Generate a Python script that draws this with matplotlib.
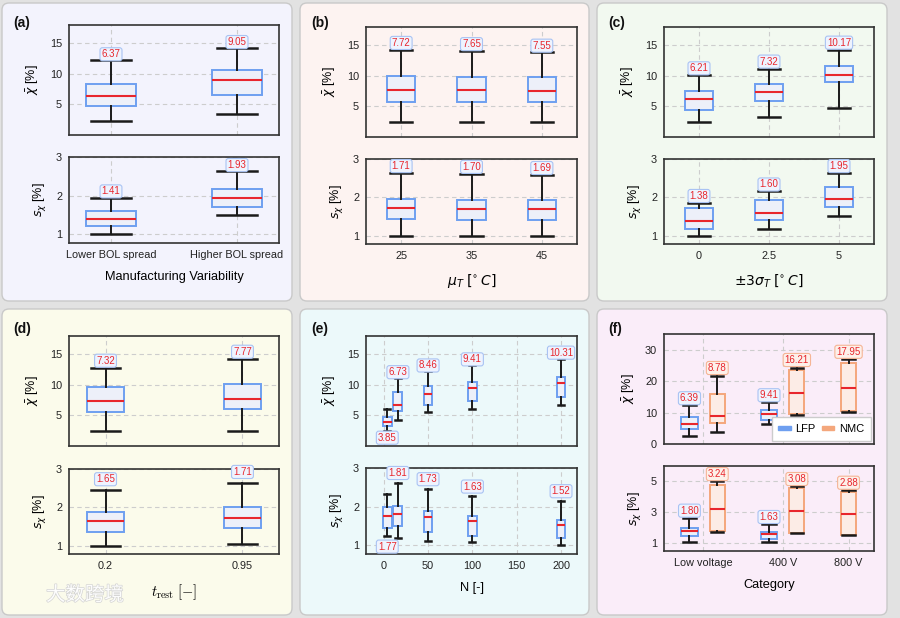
import matplotlib
matplotlib.use('Agg')
import matplotlib.pyplot as plt
from matplotlib.patches import FancyBboxPatch, Patch
import matplotlib.patheffects as pe
import numpy as np

plt.rcParams['font.family'] = ['Liberation Sans', 'DejaVu Sans']
plt.rcParams['mathtext.fontset'] = 'dejavusans'

# ---------------- data ----------------
# (a) Manufacturing variability
a_cats = ["Lower BOL spread", "Higher BOL spread"]
a_mean_lo = [2.36, 3.46]; a_mean_q1 = [4.78, 6.60]; a_mean_med = [6.37, 9.05]
a_mean_q3 = [8.40, 10.60]; a_mean_hi = [12.30, 14.30]
a_std_lo = [1.00, 1.50]; a_std_q1 = [1.21, 1.72]; a_std_med = [1.41, 1.93]
a_std_q3 = [1.61, 2.17]; a_std_hi = [1.95, 2.63]

# (b) mean temperature
b_cats = ["25", "35", "45"]
b_mean_lo = [2.49, 2.49, 2.49]; b_mean_q1 = [5.70, 5.70, 5.70]; b_mean_med = [7.72, 7.65, 7.55]
b_mean_q3 = [9.97, 9.90, 9.80]; b_mean_hi = [14.30, 14.10, 13.85]
b_std_lo = [1.00, 1.00, 1.00]; b_std_q1 = [1.42, 1.41, 1.40]; b_std_med = [1.71, 1.70, 1.69]
b_std_q3 = [1.96, 1.94, 1.93]; b_std_hi = [2.64, 2.62, 2.59]

# (c) temperature spread
c_cats = ["0", "2.5", "5"]
c_mean_lo = [2.49, 3.20, 4.73]; c_mean_q1 = [4.45, 5.87, 9.00]; c_mean_med = [6.21, 7.32, 10.17]
c_mean_q3 = [7.50, 8.60, 11.70]; c_mean_hi = [10.10, 11.20, 14.30]
c_std_lo = [1.00, 1.17, 1.51]; c_std_q1 = [1.17, 1.41, 1.75]; c_std_med = [1.38, 1.60, 1.95]
c_std_q3 = [1.73, 1.93, 2.27]; c_std_hi = [1.86, 2.16, 2.64]

# (d) rest time
d_vals = [0.2, 0.95]
d_cats = ["0.2", "0.95"]
d_mean_lo = [2.45, 2.50]; d_mean_q1 = [5.49, 6.03]; d_mean_med = [7.32, 7.77]
d_mean_q3 = [9.62, 10.20]; d_mean_hi = [12.77, 14.24]
d_std_lo = [1.00, 1.03]; d_std_q1 = [1.36, 1.45]; d_std_med = [1.65, 1.71]
d_std_q3 = [1.88, 2.00]; d_std_hi = [2.45, 2.64]

# (e) number of cells
e_N = [4, 16, 50, 100, 200]
e_mean_lo = [2.45, 4.24, 5.49, 6.09, 6.74]; e_mean_q1 = [3.20, 5.76, 6.68, 7.34, 8.00]
e_mean_med = [3.85, 6.73, 8.46, 9.41, 10.31]
e_mean_q3 = [4.73, 8.90, 9.84, 10.54, 11.36]; e_mean_hi = [6.03, 11.10, 12.20, 13.20, 14.30]
e_std_lo = [1.24, 1.20, 1.11, 1.08, 1.00]; e_std_q1 = [1.44, 1.51, 1.36, 1.25, 1.19]
e_std_med = [1.77, 1.81, 1.73, 1.63, 1.52]
e_std_q3 = [2.00, 2.02, 1.89, 1.77, 1.67]; e_std_hi = [2.32, 2.62, 2.46, 2.27, 2.15]
e_label_below = [True, False, False, False, False]

# (f) category: LFP (Low voltage, 400 V), NMC (Low voltage, 400 V, 800 V)
f_cats = ["Low voltage", "400 V", "800 V"]
f_lfp_mean_lo = [2.64, 6.34]; f_lfp_mean_q1 = [4.65, 7.60]; f_lfp_mean_med = [6.39, 9.41]
f_lfp_mean_q3 = [8.66, 10.77]; f_lfp_mean_hi = [12.35, 13.30]
f_nmc_mean_lo = [3.80, 9.30, 10.24]; f_nmc_mean_q1 = [6.76, 9.50, 10.45]; f_nmc_mean_med = [8.78, 16.21, 17.95]
f_nmc_mean_q3 = [15.90, 23.44, 25.90]; f_nmc_mean_hi = [21.75, 24.30, 26.90]
f_lfp_std_lo = [1.11, 1.06]; f_lfp_std_q1 = [1.48, 1.26]; f_lfp_std_med = [1.80, 1.63]
f_lfp_std_q3 = [2.02, 1.74]; f_lfp_std_hi = [2.66, 2.25]
f_nmc_std_lo = [1.74, 1.65, 1.54]; f_nmc_std_q1 = [1.82, 1.67, 1.56]; f_nmc_std_med = [3.24, 3.08, 2.88]
f_nmc_std_q3 = [4.76, 4.55, 4.29]; f_nmc_std_hi = [5.00, 4.68, 4.44]

# ---------------- style ----------------
W, H = 900, 618
RED = '#e8262d'
BLUE = '#6e9ff0'; BLUE_FACE = '#edf0f9'; BLUE_LBL_E = '#a9c3f3'; BLUE_LBL_F = '#eef3fe'
ORNG = '#f4a77c'; ORNG_FACE = '#fcece6'; ORNG_LBL_E = '#f5b596'; ORNG_LBL_F = '#fdf0ea'
PANEL_COLORS = ['#f3f3fd', '#fdf3f1', '#f2f9f0', '#fbfbeb', '#ecf9fa', '#faedf9']

fig = plt.figure(figsize=(9, 6.18), dpi=100, facecolor='#e2e2e2')

panels = [(2, 3, 292, 301), (300, 3, 589, 301), (597, 3, 887, 301),
          (2, 309, 292, 615), (300, 309, 589, 615), (597, 309, 887, 615)]
letters = ['(a)', '(b)', '(c)', '(d)', '(e)', '(f)']
for (x0, y0, x1, y1), col, let in zip(panels, PANEL_COLORS, letters):
    p = FancyBboxPatch((x0 / 100, (H - y1) / 100), (x1 - x0) / 100, (y1 - y0) / 100,
                       boxstyle='round,pad=0,rounding_size=0.07',
                       transform=fig.dpi_scale_trans, facecolor=col,
                       edgecolor='#c9c9c9', linewidth=1.0, zorder=0)
    fig.add_artist(p)
    fig.text((x0 + 11) / W, 1 - (y0 + 20) / H, let, fontsize=10, fontweight='bold',
             ha='left', va='center', color='#111111')


def rect(x0, y0, x1, y1):
    return [x0 / W, 1 - y1 / H, (x1 - x0) / W, (y1 - y0) / H]


def style(ax, ylim, yticks):
    ax.set_facecolor('none')
    ax.set_ylim(ylim)
    ax.set_yticks(yticks)
    ax.grid(True, ls=(0, (4, 3)), color='#cdcdcd', lw=0.8)
    ax.set_axisbelow(True)
    for s in ax.spines.values():
        s.set_color('#333333')
        s.set_linewidth(1.2)
    ax.tick_params(length=0, labelsize=7.8, pad=5, colors='#222222')


def draw_boxes(ax, pos, lo, q1, med, q3, hi, width, edge, face, le, lf,
               off=4.5, below=None, capfrac=0.8):
    stats = [dict(whislo=a, q1=b, med=c, q3=d, whishi=e, fliers=[])
             for a, b, c, d, e in zip(lo, q1, med, q3, hi)]
    ax.bxp(stats, positions=pos, widths=width, capwidths=width * capfrac,
           patch_artist=True, showfliers=False, manage_ticks=False,
           boxprops=dict(facecolor=face, edgecolor=edge, linewidth=1.4),
           medianprops=dict(color=RED, linewidth=1.5),
           whiskerprops=dict(color='#1a1a1a', linewidth=1.4),
           capprops=dict(color='#1a1a1a', linewidth=1.8))
    for i, (p, m) in enumerate(zip(pos, med)):
        b = below[i] if below else False
        y = lo[i] if b else hi[i]
        ax.annotate(f'{m:.2f}', (p, y), xytext=(0, -(off + 0.5) if b else off),
                    textcoords='offset points', ha='center', va='center',
                    fontsize=7, color=RED, zorder=6, annotation_clip=False,
                    bbox=dict(boxstyle='round,pad=0.16,rounding_size=0.25',
                              fc=lf, ec=le, lw=0.8))


def panel(top_rect, bot_rect, pos, xlim, xticks, xticklabels, xlabel, width,
          top, bot, top_ylim=(0, 18), top_yt=(5, 10, 15), bot_ylim=(0.78, 3),
          bot_yt=(1, 2, 3), off_top=4.5, off_bot=4.5, below=None, capfrac=0.8,
          xlabel_kw=None):
    axt = fig.add_axes(rect(*top_rect))
    axb = fig.add_axes(rect(*bot_rect))
    for ax in (axt, axb):
        ax.set_xlim(xlim)
        ax.set_xticks(xticks)
    style(axt, top_ylim, top_yt)
    style(axb, bot_ylim, bot_yt)
    axt.tick_params(labelbottom=False)
    axb.set_xticklabels(xticklabels)
    if top is not None:
        draw_boxes(axt, pos, *top, width, BLUE, BLUE_FACE, BLUE_LBL_E, BLUE_LBL_F,
                   off=off_top, below=below, capfrac=capfrac)
        draw_boxes(axb, pos, *bot, width, BLUE, BLUE_FACE, BLUE_LBL_E, BLUE_LBL_F,
                   off=off_bot, below=below, capfrac=capfrac)
    axt.set_ylabel(r'$\bar{\chi}$ [%]', fontsize=9, labelpad=6)
    axb.set_ylabel(r'$s_{\chi}$ [%]', fontsize=9, labelpad=6)
    kw = dict(fontsize=9.2, labelpad=8)
    kw.update(xlabel_kw or {})
    axb.set_xlabel(xlabel, **kw)
    return axt, axb


# (a)
panel((69, 25, 279, 135), (69, 157, 279, 243), [0, 1], (-1 / 3, 4 / 3), [0, 1], a_cats,
      'Manufacturing Variability', 0.4,
      (a_mean_lo, a_mean_q1, a_mean_med, a_mean_q3, a_mean_hi),
      (a_std_lo, a_std_q1, a_std_med, a_std_q3, a_std_hi), off_top=4, off_bot=4.5)
# (b)
panel((366, 27, 577, 137), (366, 159, 577, 244), [0, 1, 2], (-0.5, 2.5), [0, 1, 2], b_cats,
      r'$\mu_T\;[^{\circ}\,C]$', 0.4,
      (b_mean_lo, b_mean_q1, b_mean_med, b_mean_q3, b_mean_hi),
      (b_std_lo, b_std_q1, b_std_med, b_std_q3, b_std_hi), off_top=4.8, off_bot=4.8,
      xlabel_kw=dict(fontsize=10))
# (c)
panel((664, 27, 874, 137), (664, 159, 874, 244), [0, 1, 2], (-0.5, 2.5), [0, 1, 2], c_cats,
      r'$\pm3\sigma_T\;[^{\circ}\,C]$', 0.4,
      (c_mean_lo, c_mean_q1, c_mean_med, c_mean_q3, c_mean_hi),
      (c_std_lo, c_std_q1, c_std_med, c_std_q3, c_std_hi), off_top=5, off_bot=4.8,
      xlabel_kw=dict(fontsize=10))
# (d)
panel((69, 336, 279, 446), (69, 469, 279, 554), d_vals, (0, 1.15), d_vals, d_cats,
      r'$t_{\mathrm{rest}}\;[-]$', 0.2,
      (d_mean_lo, d_mean_q1, d_mean_med, d_mean_q3, d_mean_hi),
      (d_std_lo, d_std_q1, d_std_med, d_std_q3, d_std_hi), off_top=5.2, off_bot=7.8,
      xlabel_kw=dict(math_fontfamily='cm', fontsize=10.5))
# (e)
panel((366, 336, 577, 446), (366, 468, 577, 554), e_N, (-20, 218), [0, 50, 100, 150, 200],
      ['0', '50', '100', '150', '200'], 'N [-]', 10,
      (e_mean_lo, e_mean_q1, e_mean_med, e_mean_q3, e_mean_hi),
      (e_std_lo, e_std_q1, e_std_med, e_std_q3, e_std_hi), off_top=4.3, off_bot=7,
      below=e_label_below, capfrac=0.7)

# (f)
f_lfp_pos = [1.0, 2.0]
f_nmc_pos = [1.35, 2.35, 3.0]
f_ticks = [np.mean([f_lfp_pos[0], f_nmc_pos[0]]), np.mean([f_lfp_pos[1], f_nmc_pos[1]]), f_nmc_pos[2]]
axt, axb = panel((664, 334, 874, 444), (664, 466, 874, 551), None, (0.68, 3.32), f_ticks, f_cats,
                 'Category', 0.2, None, None, top_ylim=(0, 35), top_yt=(0, 10, 20, 30),
                 bot_ylim=(0.5, 6.0), bot_yt=(1, 3, 5))
draw_boxes(axt, f_lfp_pos, f_lfp_mean_lo, f_lfp_mean_q1, f_lfp_mean_med, f_lfp_mean_q3, f_lfp_mean_hi,
           0.21, BLUE, BLUE_FACE, BLUE_LBL_E, BLUE_LBL_F, off=5)
draw_boxes(axt, f_nmc_pos, f_nmc_mean_lo, f_nmc_mean_q1, f_nmc_mean_med, f_nmc_mean_q3, f_nmc_mean_hi,
           0.19, ORNG, ORNG_FACE, ORNG_LBL_E, ORNG_LBL_F, off=5.5)
draw_boxes(axb, f_lfp_pos, f_lfp_std_lo, f_lfp_std_q1, f_lfp_std_med, f_lfp_std_q3, f_lfp_std_hi,
           0.21, BLUE, BLUE_FACE, BLUE_LBL_E, BLUE_LBL_F, off=5)
draw_boxes(axb, f_nmc_pos, f_nmc_std_lo, f_nmc_std_q1, f_nmc_std_med, f_nmc_std_q3, f_nmc_std_hi,
           0.19, ORNG, ORNG_FACE, ORNG_LBL_E, ORNG_LBL_F, off=5.3)
leg = axt.legend(handles=[Patch(facecolor=BLUE, edgecolor=BLUE, label='LFP'),
                          Patch(facecolor=ORNG, edgecolor=ORNG, label='NMC')],
                 loc='lower right', ncol=2, fontsize=8, handlelength=1.1, handleheight=0.3,
                 handletextpad=0.4, columnspacing=0.6, borderaxespad=0.3, fancybox=False,
                 framealpha=1, edgecolor='#cccccc', borderpad=0.6)
leg.set_zorder(7)

# watermark
fig.text(46 / W, 1 - 595 / H, '大数跨境', fontfamily=['Noto Sans CJK SC', 'DejaVu Sans'],
         fontsize=14, color='white', ha='left', va='center', alpha=0.95,
         path_effects=[pe.withStroke(linewidth=1.0, foreground='#d2d2d2')])

fig.savefig('out.png', dpi=100, facecolor=fig.get_facecolor())
